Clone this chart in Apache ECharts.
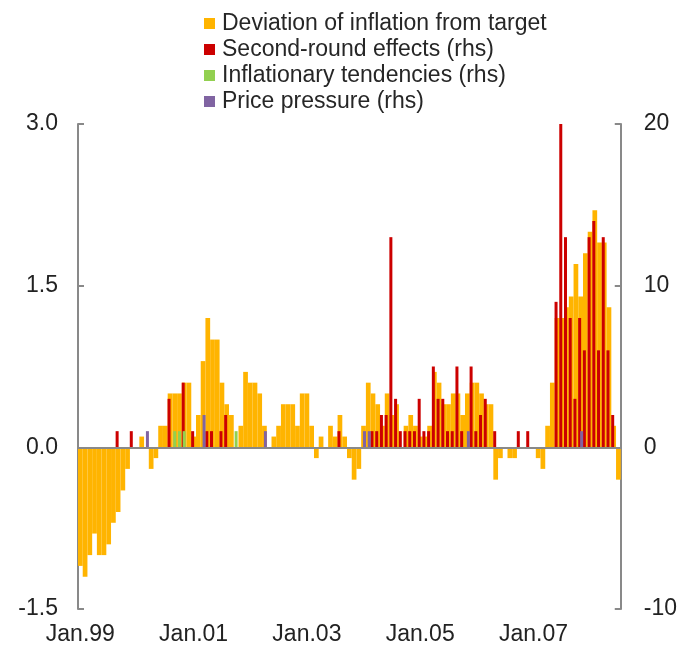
<!DOCTYPE html>
<html>
<head>
<meta charset="utf-8">
<script src="https://cdn.jsdelivr.net/npm/echarts@6/dist/echarts.min.js"></script>
<style>
    html, body { margin: 0; padding: 0; background: #fff; }
    #chart { width: 680px; height: 646px; }
</style>
</head>
<body>
<div id="chart"></div>
<script>
    // monthly data, Jan.99 - Jul.08
    const monthNames = ['Jan', 'Feb', 'Mar', 'Apr', 'May', 'Jun', 'Jul', 'Aug', 'Sep', 'Oct', 'Nov', 'Dec'];
    const years = ['99', '00', '01', '02', '03', '04', '05', '06', '07', '08'];

    // lhs, percentage points
    const deviation = [
        -1.1, -1.2, -1.0, -0.8, -1.0, -1.0, -0.9, -0.7, -0.6, -0.4, -0.2, 0,
        0, 0.1, 0, -0.2, -0.1, 0.2, 0.2, 0.5, 0.5, 0.5, 0.6, 0.6,
        0.1, 0.3, 0.8, 1.2, 1.0, 1.0, 0.6, 0.4, 0.3, 0, 0.2, 0.7,
        0.6, 0.6, 0.5, 0.2, 0, 0.1, 0.2, 0.4, 0.4, 0.4, 0.2, 0.5,
        0.5, 0.2, -0.1, 0.1, 0, 0.2, 0.1, 0.3, 0.1, -0.1, -0.3, -0.2,
        0.2, 0.6, 0.5, 0.4, 0.2, 0.5, 0.3, 0.4, 0, 0.2, 0.3, 0.2,
        0.1, 0.1, 0.2, 0.7, 0.6, 0.4, 0.4, 0.5, 0.5, 0.3, 0.5, 0.6,
        0.6, 0.5, 0.4, 0.4, -0.3, -0.1, 0, -0.1, -0.1, 0, 0, 0,
        0, -0.1, -0.2, 0.2, 0.6, 1.2, 1.2, 1.3, 1.4, 1.7, 1.4, 1.8,
        2.0, 2.2, 1.9, 1.9, 1.3, 0.2, -0.3,
    ];

    // rhs, counts
    const secondRound = [
        0, 0, 0, 0, 0, 0, 0, 0, 1, 0, 0, 1,
        0, 0, 0, 0, 0, 0, 0, 3, 0, 0, 4, 0,
        1, 0, 0, 1, 1, 0, 1, 2, 0, 0, 0, 0,
        0, 0, 0, 0, 0, 0, 0, 0, 0, 0, 0, 0,
        0, 0, 0, 0, 0, 0, 0, 1, 0, 0, 0, 0,
        0, 0, 1, 1, 2, 2, 13, 3, 1, 1, 1, 1,
        3, 1, 1, 5, 3, 3, 1, 1, 5, 1, 0, 5,
        1, 2, 3, 0, 1, 0, 0, 0, 0, 1, 0, 1,
        0, 0, 0, 0, 0, 9, 20, 13, 8, 3, 8, 6,
        13, 14, 6, 13, 6, 2, 0,
    ];

    const tendencies = [
        0, 0, 0, 0, 0, 0, 0, 0, 0, 0, 0, 0,
        0, 0, 0, 0, 0, 0, 0, 0, 1, 1, 1, 0,
        0, 0, 0, 0, 0, 0, 0, 0, 0, 1, 0, 0,
        0, 0, 0, 0, 0, 0, 0, 0, 0, 0, 0, 0,
        0, 0, 0, 0, 0, 0, 0, 0, 0, 0, 0, 0,
        0, 0, 0, 0, 0, 0, 0, 0, 0, 0, 0, 0,
        0, 0, 0, 0, 0, 0, 0, 0, 0, 0, 0, 0,
        0, 0, 0, 0, 0, 0, 0, 0, 0, 0, 0, 0,
        0, 0, 0, 0, 0, 0, 0, 0, 0, 0, 0, 0,
        0, 0, 0, 0, 0, 0, 0,
    ];

    const pricePressure = [
        0, 0, 0, 0, 0, 0, 0, 0, 0, 0, 0, 0,
        0, 0, 1, 0, 0, 0, 0, 0, 0, 0, 0, 0,
        0, 0, 2, 0, 0, 0, 0, 0, 0, 0, 0, 0,
        0, 0, 0, 1, 0, 0, 0, 0, 0, 0, 0, 0,
        0, 0, 0, 0, 0, 0, 0, 0, 0, 0, 0, 0,
        1, 1, 0, 0, 0, 0, 0, 0, 0, 0, 0, 0,
        0, 0, 0, 0, 0, 0, 0, 0, 0, 0, 1, 0,
        0, 0, 0, 0, 0, 0, 0, 0, 0, 0, 0, 0,
        0, 0, 0, 0, 0, 0, 0, 0, 0, 0, 1, 0,
        0, 0, 0, 0, 0, 0, 0,
    ];

    const months = deviation.map((v, i) => monthNames[i % 12] + '.' + years[Math.floor(i / 12)]);

    const font = 'Liberation Sans, Arial, sans-serif';
    const grey = '#898989';
    const textColor = '#222';

    const axisLine = { show: true, lineStyle: { color: grey, width: 2 } };
    const axisTick = { show: true, inside: true, length: 6, lineStyle: { color: grey, width: 2 } };

    // thin rhs bars share one hidden category axis so they cluster apart from the lhs bars
    const rhsBar = {
        type: 'bar',
        xAxisIndex: 1,
        yAxisIndex: 1,
        barWidth: 3,
        barGap: '-67%',
    };

    const chart = echarts.init(document.getElementById('chart'));
    chart.setOption({
        animation: false,
        textStyle: { fontFamily: font },
        legend: {
            orient: 'vertical',
            left: 199,
            top: 7,
            itemWidth: 11,
            itemHeight: 11,
            itemGap: 3,
            icon: 'rect',
            textStyle: { fontSize: 23, color: '#262626', padding: [0, 0, 0, 2] },
            data: [
                'Deviation of inflation from target',
                'Second-round effects (rhs)',
                'Inflationary tendencies (rhs)',
                'Price pressure (rhs)',
            ],
        },
        grid: { left: 78, right: 57, top: 124, bottom: 35 },
        xAxis: [
            {
                type: 'category',
                data: months,
                position: 'bottom',
                axisLine: { show: false, onZero: false },
                axisTick: { show: false },
                axisLabel: { interval: 23, margin: 14, fontSize: 23, color: textColor },
            },
            {
                type: 'category',
                data: months,
                position: 'bottom',
                z: 10,
                axisLine: { show: true, onZero: true, lineStyle: { color: grey, width: 2 } },
                axisTick: { show: false },
                axisLabel: { show: false },
            },
        ],
        yAxis: [
            {
                type: 'value',
                position: 'left',
                min: -1.5,
                max: 3,
                interval: 1.5,
                axisLine: axisLine,
                axisTick: axisTick,
                splitLine: { show: false },
                axisLabel: {
                    margin: 20,
                    fontSize: 23,
                    color: textColor,
                    formatter: (v) => v.toFixed(1),
                },
            },
            {
                type: 'value',
                position: 'right',
                min: -10,
                max: 20,
                interval: 10,
                axisLine: axisLine,
                axisTick: axisTick,
                splitLine: { show: false },
                axisLabel: { margin: 23, fontSize: 23, color: textColor },
            },
        ],
        series: [
            {
                name: 'Deviation of inflation from target',
                type: 'bar',
                xAxisIndex: 0,
                yAxisIndex: 0,
                barCategoryGap: '0%',
                itemStyle: { color: '#ffb400' },
                data: deviation,
            },
            Object.assign({}, rhsBar, {
                name: 'Second-round effects (rhs)',
                itemStyle: { color: '#cc0000' },
                data: secondRound,
            }),
            Object.assign({}, rhsBar, {
                name: 'Inflationary tendencies (rhs)',
                itemStyle: { color: '#92d050' },
                data: tendencies,
            }),
            Object.assign({}, rhsBar, {
                name: 'Price pressure (rhs)',
                itemStyle: { color: '#8064a2' },
                data: pricePressure,
            }),
        ],
    });
</script>
</body>
</html>
